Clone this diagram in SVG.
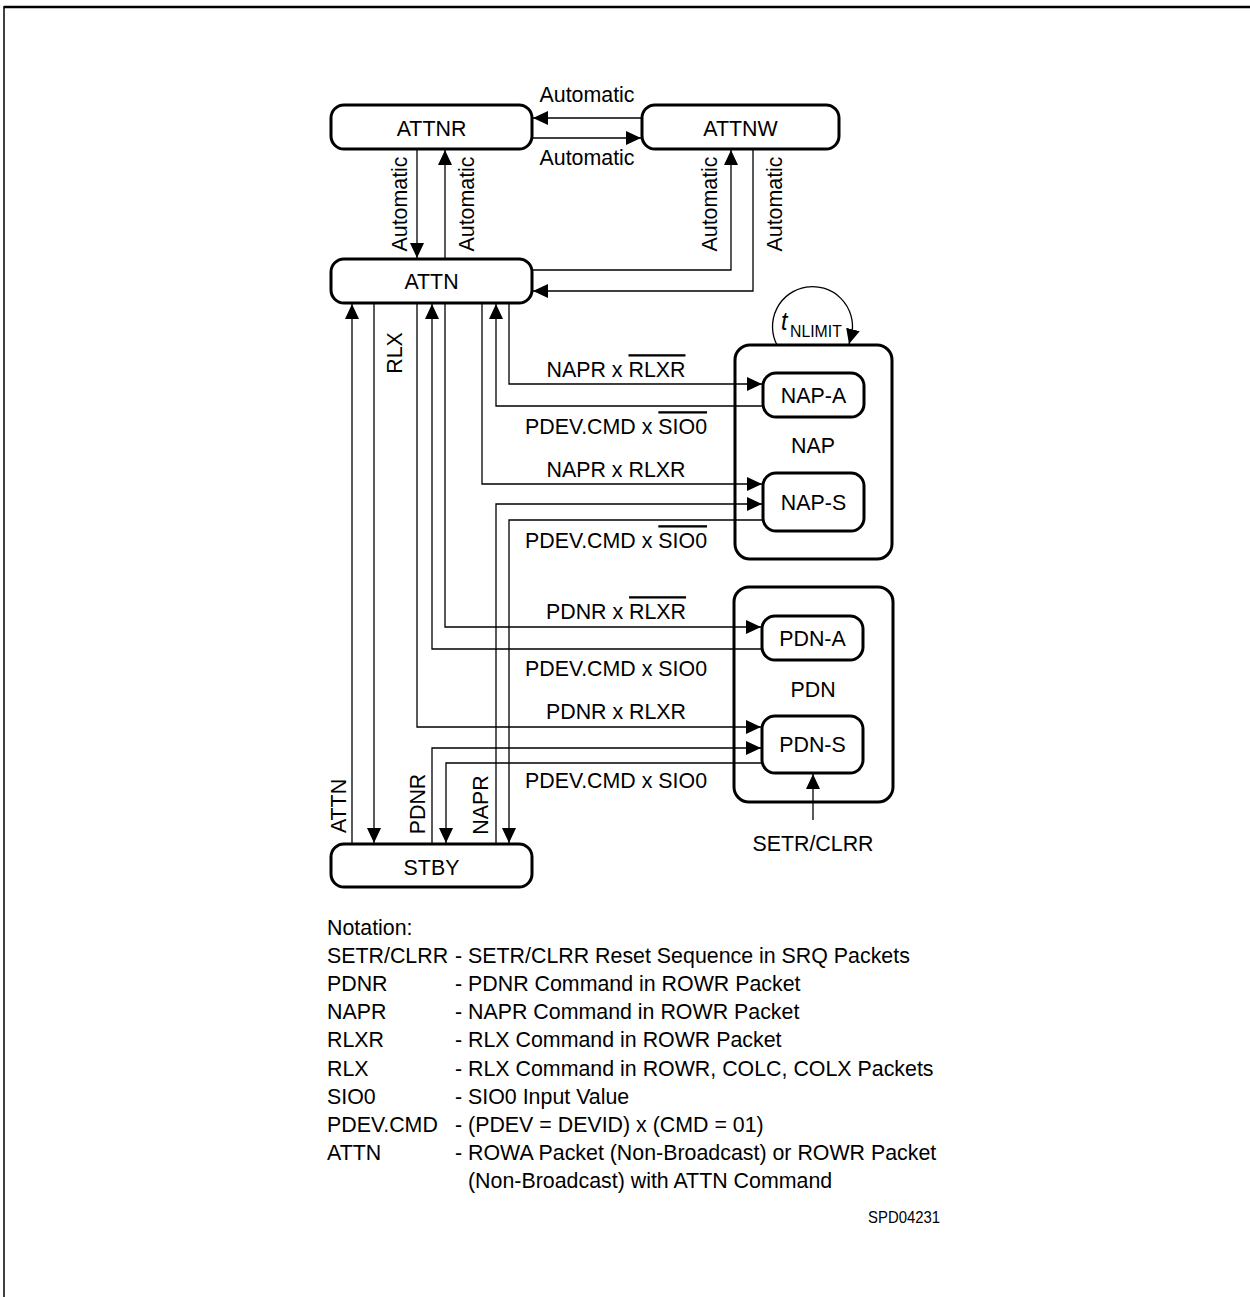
<svg xmlns="http://www.w3.org/2000/svg" width="1250" height="1297" viewBox="0 0 1250 1297">
<defs>
<style>
.box{fill:#fff;stroke:#000;stroke-width:3}
.grp{fill:none;stroke:#000;stroke-width:3}
.c{fill:none;stroke:#000;stroke-width:1.3}
.t{font-family:"Liberation Sans",Arial,sans-serif;font-size:23px;fill:#000}
.m{text-anchor:middle}
.ov{text-decoration:overline}
</style>
<marker id="ah" markerUnits="userSpaceOnUse" markerWidth="16" markerHeight="14" refX="15" refY="7" orient="auto">
<path d="M0,0 L15,7 L0,14 z" fill="#000"/>
</marker>
</defs>
<rect width="1250" height="1297" fill="#fff"/>
<g id="frame">
<line x1="4" y1="7" x2="1250" y2="7" stroke="#000" stroke-width="2.5"/>
<line x1="4" y1="6" x2="4" y2="1297" stroke="#000" stroke-width="1.5"/>
</g>

<g id="ATTNR">
<rect class="box" x="331" y="105" width="201" height="44" rx="13"/>
<text class="t m" transform="translate(431.5 136) scale(.93 1)">ATTNR</text>
</g>
<g id="ATTNW">
<rect class="box" x="642" y="105" width="197" height="44" rx="13"/>
<text class="t m" transform="translate(740.5 136) scale(.93 1)">ATTNW</text>
</g>
<g id="ATTN">
<rect class="box" x="331" y="259" width="201" height="44" rx="13"/>
<text class="t m" transform="translate(431.5 289) scale(.93 1)">ATTN</text>
</g>
<g id="STBY">
<rect class="box" x="331" y="844" width="201" height="43" rx="13"/>
<text class="t m" transform="translate(431.5 875) scale(.93 1)">STBY</text>
</g>
<g id="NAP">
<rect class="grp" x="735" y="345" width="157" height="214" rx="15"/>
<text class="t m" transform="translate(813 453) scale(.93 1)">NAP</text>
</g>
<g id="NAP-A">
<rect class="box" x="763" y="373" width="101" height="44" rx="13"/>
<text class="t m" transform="translate(813.5 403) scale(.93 1)">NAP-A</text>
</g>
<g id="NAP-S">
<rect class="box" x="763" y="473" width="101" height="58" rx="13"/>
<text class="t m" transform="translate(813.5 510) scale(.93 1)">NAP-S</text>
</g>
<g id="PDN">
<rect class="grp" x="734" y="587" width="159" height="215" rx="15"/>
<text class="t m" transform="translate(813 697) scale(.93 1)">PDN</text>
</g>
<g id="PDN-A">
<rect class="box" x="762" y="616" width="101" height="44" rx="13"/>
<text class="t m" transform="translate(812.5 646) scale(.93 1)">PDN-A</text>
</g>
<g id="PDN-S">
<rect class="box" x="762" y="716" width="101" height="57" rx="13"/>
<text class="t m" transform="translate(812.5 752) scale(.93 1)">PDN-S</text>
</g>

<g id="connectors">
<path class="c" d="M642,118 H533" marker-end="url(#ah)"/>
<path class="c" d="M532,138 H641" marker-end="url(#ah)"/>
<path class="c" d="M417,149 V258" marker-end="url(#ah)"/>
<path class="c" d="M445,259 V150" marker-end="url(#ah)"/>
<path class="c" d="M532,270 H731 V150" marker-end="url(#ah)"/>
<path class="c" d="M753,149 V291 H533" marker-end="url(#ah)"/>
<path class="c" d="M352,844 V304" marker-end="url(#ah)"/>
<path class="c" d="M374,303 V843" marker-end="url(#ah)"/>
<path class="c" d="M417,303 V727 H761" marker-end="url(#ah)"/>
<path class="c" d="M762,649 H432 V304" marker-end="url(#ah)"/>
<path class="c" d="M445,303 V627 H761" marker-end="url(#ah)"/>
<path class="c" d="M482,303 V484 H762" marker-end="url(#ah)"/>
<path class="c" d="M763,406 H496 V304" marker-end="url(#ah)"/>
<path class="c" d="M509,303 V384 H762" marker-end="url(#ah)"/>
<path class="c" d="M432,844 V748 H761" marker-end="url(#ah)"/>
<path class="c" d="M762,763 H446 V843" marker-end="url(#ah)"/>
<path class="c" d="M496,844 V504 H762" marker-end="url(#ah)"/>
<path class="c" d="M763,520 H509 V843" marker-end="url(#ah)"/>
<path class="c" d="M813,820 V774" marker-end="url(#ah)"/>
<path class="c" d="M777,345 A40,40 0 1,1 852,333 L849,344" marker-end="url(#ah)"/>

<text class="t m" transform="translate(587 102) scale(.93 1)">Automatic</text>
<text class="t m" transform="translate(587 165) scale(.93 1)">Automatic</text>
<text class="t m" transform="translate(407 204) rotate(-90) scale(.93 1)">Automatic</text>
<text class="t m" transform="translate(474 204) rotate(-90) scale(.93 1)">Automatic</text>
<text class="t m" transform="translate(717 204) rotate(-90) scale(.93 1)">Automatic</text>
<text class="t m" transform="translate(782 204) rotate(-90) scale(.93 1)">Automatic</text>
<text class="t m" transform="translate(402 353) rotate(-90) scale(.93 1)">RLX</text>
<text class="t m" transform="translate(346 806) rotate(-90) scale(.93 1)">ATTN</text>
<text class="t m" transform="translate(425 804) rotate(-90) scale(.93 1)">PDNR</text>
<text class="t m" transform="translate(488 805) rotate(-90) scale(.93 1)">NAPR</text>

<text class="t m" transform="translate(616 377) scale(.93 1)">NAPR x <tspan class="ov">RLXR</tspan></text>
<text class="t m" transform="translate(616 434) scale(.93 1)">PDEV.CMD x <tspan class="ov">SIO0</tspan></text>
<text class="t m" transform="translate(616 477) scale(.93 1)">NAPR x RLXR</text>
<text class="t m" transform="translate(616 548) scale(.93 1)">PDEV.CMD x <tspan class="ov">SIO0</tspan></text>
<text class="t m" transform="translate(616 619) scale(.93 1)">PDNR x <tspan class="ov">RLXR</tspan></text>
<text class="t m" transform="translate(616 676) scale(.93 1)">PDEV.CMD x SIO0</text>
<text class="t m" transform="translate(616 719) scale(.93 1)">PDNR x RLXR</text>
<text class="t m" transform="translate(616 788) scale(.93 1)">PDEV.CMD x SIO0</text>
<text class="t m" transform="translate(813 851) scale(.93 1)">SETR/CLRR</text>
<text class="t" transform="translate(781 330) scale(.93 1)" style="font-style:italic;font-size:25px">t</text>
<text class="t" transform="translate(790 337) scale(.93 1)" style="font-size:17px">NLIMIT</text>
</g>

<g id="notation">
<text class="t" transform="translate(327 934.5) scale(.93 1)">Notation:</text>
<text class="t" transform="translate(327 962.7) scale(.93 1)">SETR/CLRR</text>
<text class="t" transform="translate(455 962.7) scale(.93 1)">- SETR/CLRR Reset Sequence in SRQ Packets</text>
<text class="t" transform="translate(327 990.9) scale(.93 1)">PDNR</text>
<text class="t" transform="translate(455 990.9) scale(.93 1)">- PDNR Command in ROWR Packet</text>
<text class="t" transform="translate(327 1019.1) scale(.93 1)">NAPR</text>
<text class="t" transform="translate(455 1019.1) scale(.93 1)">- NAPR Command in ROWR Packet</text>
<text class="t" transform="translate(327 1047.3) scale(.93 1)">RLXR</text>
<text class="t" transform="translate(455 1047.3) scale(.93 1)">- RLX Command in ROWR Packet</text>
<text class="t" transform="translate(327 1075.5) scale(.93 1)">RLX</text>
<text class="t" transform="translate(455 1075.5) scale(.93 1)">- RLX Command in ROWR, COLC, COLX Packets</text>
<text class="t" transform="translate(327 1103.7) scale(.93 1)">SIO0</text>
<text class="t" transform="translate(455 1103.7) scale(.93 1)">- SIO0 Input Value</text>
<text class="t" transform="translate(327 1131.9) scale(.93 1)">PDEV.CMD</text>
<text class="t" transform="translate(455 1131.9) scale(.93 1)">- (PDEV = DEVID) x (CMD = 01)</text>
<text class="t" transform="translate(327 1160.1) scale(.93 1)">ATTN</text>
<text class="t" transform="translate(455 1160.1) scale(.93 1)">- ROWA Packet (Non-Broadcast) or ROWR Packet</text>
<text class="t" transform="translate(468 1188.3) scale(.93 1)">(Non-Broadcast) with ATTN Command</text>
<text class="t" transform="translate(940 1223) scale(.93 1)" style="font-size:16px;text-anchor:end">SPD04231</text>
</g>
</svg>
